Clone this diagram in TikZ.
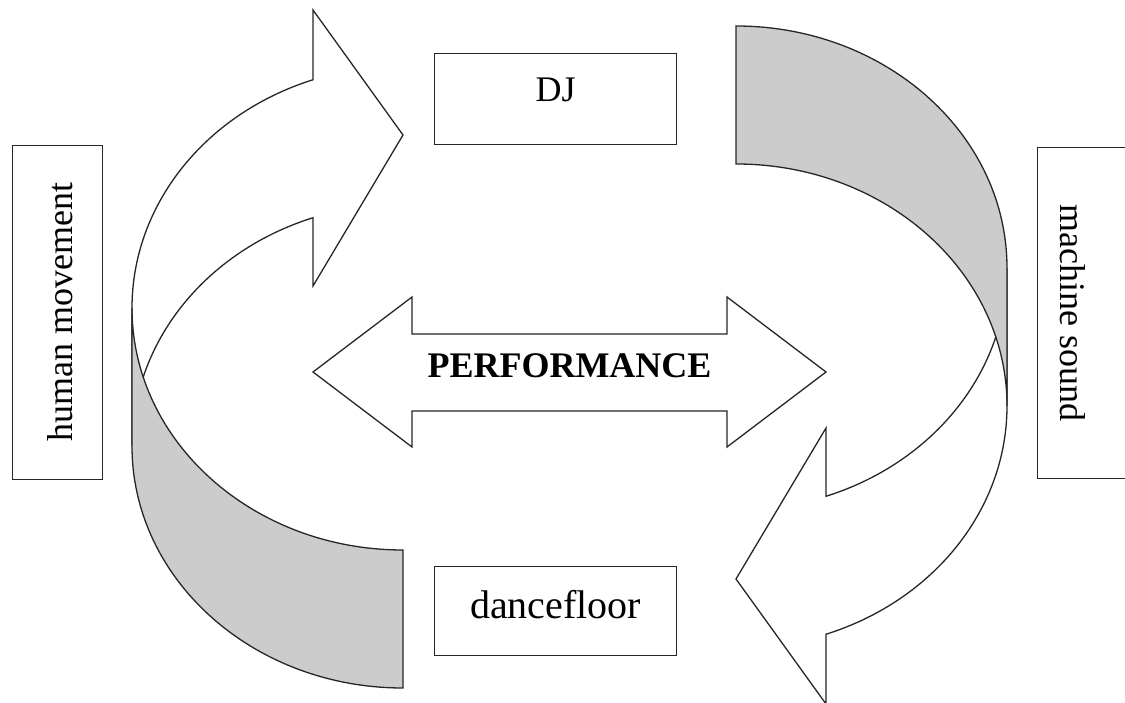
\documentclass[tikz,border=0pt]{standalone}
\usepackage{fontspec}
\setmainfont{Liberation Serif}
\definecolor{bandgray}{HTML}{CCCCCC}
\definecolor{inkline}{HTML}{262626}
\begin{document}
\begin{tikzpicture}[x=0.5pt,y=0.5pt,
  outline/.style={draw=inkline, line width=0.65pt, line join=miter},
  ribbonfront/.style={outline, fill=white},
  ribbonback/.style={outline, fill=bandgray},
  labelbox/.style={draw=inkline, line width=0.65pt, fill=white, inner sep=0pt,
    font=\fontsize{18pt}{20pt}\selectfont},
  % twisted curved arrow: front part with head, back band on top of it
  pics/twist/.style={code={
    \path[ribbonfront] (132,394)
      arc[start angle=180, end angle=109.4, x radius=135.5pt, y radius=121pt]
      -- (313,692) -- (403,567) -- (313,416) -- (313,484.3)
      arc[start angle=109.4, end angle=180, x radius=135.5pt, y radius=121pt]
      -- cycle;
    \path[ribbonback] (132,256)
      arc[start angle=180, end angle=270, x radius=135.5pt, y radius=121pt]
      -- (403,152)
      arc[start angle=270, end angle=180, x radius=135.5pt, y radius=121pt]
      -- cycle;
  }}
]
\useasboundingbox (0,0) rectangle (1125,702);
\clip (0,0) rectangle (1125,702);

% the two curved arrows
\pic (loopleft) at (0,0) {twist};
\pic[rotate=180] (loopright) at (1139,690) {twist};

% central double arrow
\path[outline, fill=white] (313,330) -- (412,405) -- (412,368) -- (727,368)
  -- (727,405) -- (826,330) -- (727,255) -- (727,291) -- (412,291)
  -- (412,255) -- cycle;
\node[font=\bfseries\fontsize{18pt}{20pt}\selectfont, anchor=base] (perf)
  at (569.5,324) {PERFORMANCE};

% labelled boxes
\node[labelbox, anchor=north west, minimum width=121pt,
  text height=24pt, text depth=21.5pt] (dj) at (434,649) {DJ};
\node[labelbox, anchor=north west, minimum width=121pt,
  text height=26pt, text depth=18.5pt, font=\fontsize{20pt}{22pt}\selectfont]
  (floor) at (434,136) {dancefloor};
\node[labelbox, rotate=90, anchor=north west, minimum width=167pt,
  text height=30pt, text depth=15pt] (human) at (12,222) {human movement};
\node[labelbox, rotate=-90, anchor=south west, minimum width=165.5pt,
  text height=40pt, text depth=11.5pt] (machine) at (1037,555) {machine sound};
\end{tikzpicture}
\end{document}
